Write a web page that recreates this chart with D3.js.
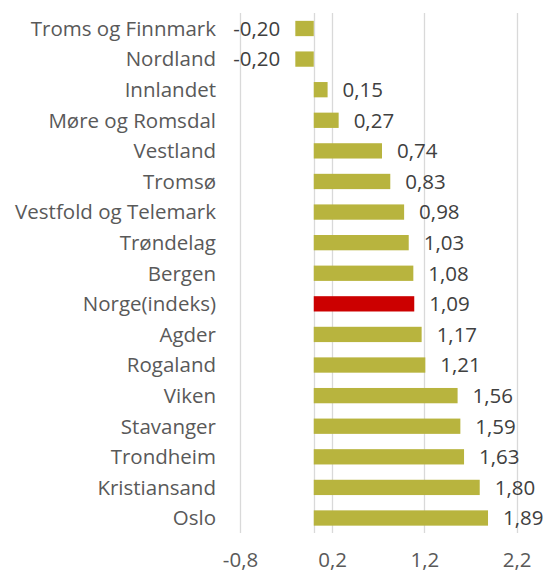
<!DOCTYPE html>
<html>
<head>
<meta charset="utf-8">
<script src="https://cdn.jsdelivr.net/npm/d3@7"></script>
<style>
  body { margin: 0; background: #fff; }
  text { font-family: "Open Sans", sans-serif; }
</style>
</head>
<body>
<script>
// regions ordered top to bottom as in the chart
var regions = ["Troms og Finnmark", "Nordland", "Innlandet", "Møre og Romsdal", "Vestland", "Tromsø",
  "Vestfold og Telemark", "Trøndelag", "Bergen", "Norge(indeks)", "Agder", "Rogaland", "Viken",
  "Stavanger", "Trondheim", "Kristiansand", "Oslo"];
var values = [-0.20, -0.20, 0.15, 0.27, 0.74, 0.83, 0.98, 1.03, 1.08, 1.09, 1.17, 1.21, 1.56, 1.59, 1.63, 1.80, 1.89];
var xTicks = [-0.8, 0.2, 1.2, 2.2];
var highlight = "Norge(indeks)";

var width = 547, height = 576;
var fontSize = 20.5;

var svg = d3.select("body").append("svg").attr("width", width).attr("height", height);

var x = d3.scaleLinear().domain([-0.8, 2.2]).range([240, 516.6]);
var y = d3.scaleBand().domain(regions).range([13.2, 533.3]).paddingInner(0.5).paddingOuter(0.25);

var no = d3.formatLocale({decimal: ",", thousands: " ", grouping: [3], currency: ["", " kr"], minus: "-"});
var fmtTick = no.format(".1f");
var fmtVal = no.format(".2f");

// gridlines
svg.selectAll("line.grid").data(xTicks.concat([0])).enter()
  .append("line")
  .attr("class", "grid")
  .attr("x1", function(d){ return Math.round(x(d)) + 0.5; })
  .attr("x2", function(d){ return Math.round(x(d)) + 0.5; })
  .attr("y1", 13)
  .attr("y2", 533)
  .attr("stroke", "#d9d9d9")
  .attr("stroke-width", 1.3);

// bars
svg.selectAll("rect").data(values).enter()
  .append("rect")
  .attr("x", function(d){ return x(Math.min(0, d)); })
  .attr("y", function(d, i){ return y(regions[i]); })
  .attr("width", function(d){ return Math.abs(x(d) - x(0)); })
  .attr("height", y.bandwidth())
  .attr("fill", function(d, i){ return regions[i] == highlight ? "#cc0000" : "#b8b43e"; });

// value labels
svg.selectAll("text.val").data(values).enter()
  .append("text")
  .attr("class", "val")
  .text(function(d){ return fmtVal(d); })
  .attr("x", function(d){ return d < 0 ? x(d) - 15 : x(d) + 15; })
  .attr("y", function(d, i){ return y(regions[i]) + y.bandwidth() / 2; })
  .attr("dy", "0.36em")
  .attr("text-anchor", function(d){ return d < 0 ? "end" : "start"; })
  .attr("font-size", fontSize)
  .attr("fill", "#404040");

// category labels
svg.selectAll("text.cat").data(regions).enter()
  .append("text")
  .attr("class", "cat")
  .text(function(d){ return d; })
  .attr("x", x(-0.8) - 24)
  .attr("y", function(d){ return y(d) + y.bandwidth() / 2; })
  .attr("dy", "0.36em")
  .attr("text-anchor", "end")
  .attr("font-size", fontSize)
  .attr("fill", "#595959");

// x axis labels
var xAxis = d3.axisBottom(x).tickValues(xTicks).tickFormat(fmtTick).tickSize(0).tickPadding(0);
var gx = svg.append("g").attr("transform", "translate(0,560)").call(xAxis);
gx.select(".domain").remove();
gx.selectAll("text")
  .attr("y", 0)
  .attr("dy", "0.36em")
  .attr("font-family", "'Open Sans', sans-serif")
  .attr("font-size", fontSize)
  .attr("fill", "#595959");
</script>
</body>
</html>
